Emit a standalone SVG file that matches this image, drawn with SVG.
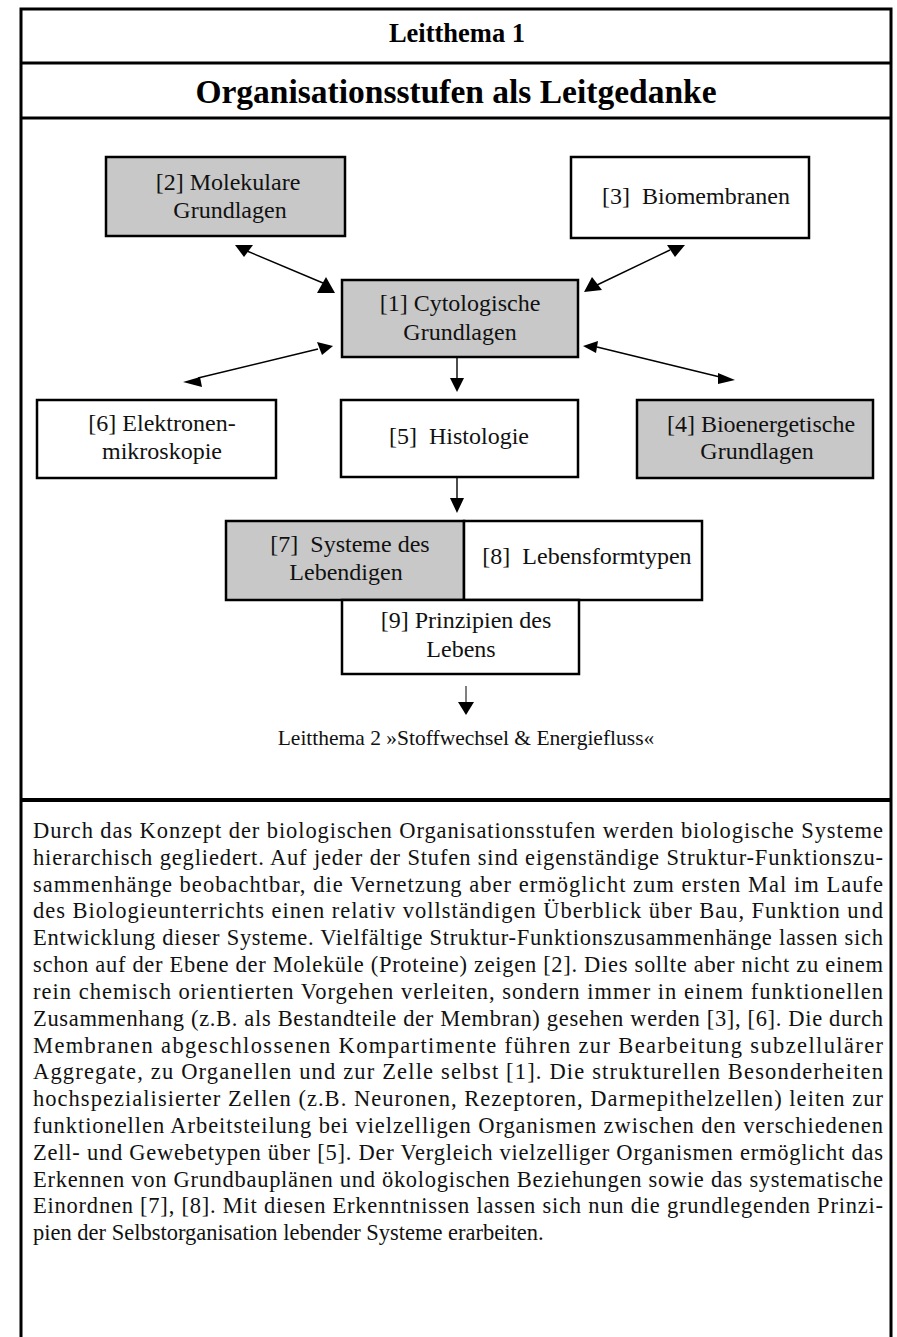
<svg xmlns="http://www.w3.org/2000/svg" width="897" height="1337" viewBox="0 0 897 1337">
  <style>
    .frame { fill: none; stroke: #000; stroke-width: 3; }
    .box { stroke: #000; stroke-width: 2.5; }
    .grey { fill: #c8c8c8; }
    .white { fill: #fff; }
    .lbl { font-family: "Liberation Serif", "Times New Roman", serif; font-size: 24px; fill: #111; text-anchor: middle; }
    .head { font-family: "Liberation Serif", "Times New Roman", serif; font-weight: bold; fill: #000; text-anchor: middle; }
    .body { font-family: "Liberation Serif", "Times New Roman", serif; font-size: 22.5px; fill: #111; }
    .conn line { stroke: #000; stroke-width: 1.4; }
    .conn polygon { fill: #000; }
  </style>

  <rect width="897" height="1337" fill="#fff"/>

  <!-- outer frame with title rows -->
  <g id="frame">
    <rect class="frame" x="21" y="9" width="870" height="1340"/>
    <line x1="21" y1="63" x2="891" y2="63" stroke="#000" stroke-width="3"/>
    <line x1="21" y1="118" x2="891" y2="118" stroke="#000" stroke-width="3"/>
    <line x1="21" y1="800" x2="891" y2="800" stroke="#000" stroke-width="4"/>
  </g>

  <g id="title">
    <text class="head" x="457" y="42" font-size="26.5">Leitthema 1</text>
    <text class="head" x="456" y="103" font-size="33.5">Organisationsstufen als Leitgedanke</text>
  </g>

  <!-- connectors -->
  <g id="connectors" class="conn">
    <!-- [2] <-> [1] -->
    <line x1="247" y1="251" x2="323" y2="283"/>
    <polygon points="235,245 253,245 244,257"/>
    <polygon points="326,277 317,293 335,293"/>
    <!-- [1] <-> [3] -->
    <line x1="670" y1="250" x2="597" y2="285"/>
    <polygon points="667,245 685,245 675,257"/>
    <polygon points="592,277 584,292 602,290"/>
    <!-- [1] <-> [6] -->
    <line x1="198" y1="378" x2="318" y2="349"/>
    <polygon points="317,342 333,346 322,355"/>
    <polygon points="183,382 200,377 202,387"/>
    <!-- [1] <-> [4] -->
    <line x1="597" y1="347" x2="720" y2="377"/>
    <polygon points="583,346 598,341 596,353"/>
    <polygon points="718,373 735,380 718,384"/>
    <!-- [1] -> [5] -->
    <line x1="457" y1="357" x2="457" y2="380"/>
    <polygon points="450,378 464,378 457,392"/>
    <!-- [5] -> [7]/[8] -->
    <line x1="457" y1="477" x2="457" y2="500"/>
    <polygon points="450,498 464,498 457,513"/>
    <!-- [9] -> Leitthema 2 -->
    <line x1="466" y1="686" x2="466" y2="703" style="stroke-width:1"/>
    <polygon points="458,702 474,702 466,715"/>
  </g>

  <g id="n2">
    <rect class="box grey" x="106" y="157" width="239" height="79"/>
    <text class="lbl" x="228" y="190">[2] Molekulare</text>
    <text class="lbl" x="230" y="218">Grundlagen</text>
  </g>

  <g id="n3">
    <rect class="box white" x="571" y="157" width="238" height="81"/>
    <text class="lbl" x="696" y="204">[3]&#160; Biomembranen</text>
  </g>

  <g id="n1">
    <rect class="box grey" x="342" y="280" width="236" height="77"/>
    <text class="lbl" x="460" y="311">[1] Cytologische</text>
    <text class="lbl" x="460" y="340">Grundlagen</text>
  </g>

  <g id="n6">
    <rect class="box white" x="37" y="400" width="239" height="78"/>
    <text class="lbl" x="162" y="431">[6] Elektronen-</text>
    <text class="lbl" x="162" y="459">mikroskopie</text>
  </g>

  <g id="n5">
    <rect class="box white" x="341" y="400" width="237" height="77"/>
    <text class="lbl" x="459" y="444">[5]&#160; Histologie</text>
  </g>

  <g id="n4">
    <rect class="box grey" x="637" y="400" width="236" height="78"/>
    <text class="lbl" x="761" y="432">[4] Bioenergetische</text>
    <text class="lbl" x="757" y="459">Grundlagen</text>
  </g>

  <g id="n7">
    <rect class="box grey" x="226" y="521" width="238" height="79"/>
    <text class="lbl" x="350" y="552">[7]&#160; Systeme des</text>
    <text class="lbl" x="346" y="580">Lebendigen</text>
  </g>

  <g id="n8">
    <rect class="box white" x="464" y="521" width="238" height="79"/>
    <text class="lbl" x="587" y="564">[8]&#160; Lebensformtypen</text>
  </g>

  <g id="n9">
    <rect class="box white" x="342" y="600" width="237" height="74"/>
    <text class="lbl" x="466" y="628">[9] Prinzipien des</text>
    <text class="lbl" x="461" y="657">Lebens</text>
  </g>

  <g id="next">
    <text class="lbl" x="466" y="745" style="font-size:21.5px">Leitthema 2 »Stoffwechsel &amp; Energiefluss«</text>
  </g>

  <!-- explanatory paragraph, justified -->
  <g id="paragraph" class="body">
    <text x="33" y="838" textLength="850" lengthAdjust="spacing">Durch das Konzept der biologischen Organisationsstufen  werden biologische Systeme</text>
    <text x="33" y="865" textLength="850" lengthAdjust="spacing">hierarchisch gegliedert. Auf jeder der Stufen sind eigenständige Struktur-Funktionszu-</text>
    <text x="33" y="892" textLength="850" lengthAdjust="spacing">sammenhänge beobachtbar, die Vernetzung aber  ermöglicht zum ersten Mal im Laufe</text>
    <text x="33" y="918" textLength="850" lengthAdjust="spacing">des Biologieunterrichts einen relativ vollständigen Überblick über  Bau, Funktion und</text>
    <text x="33" y="945" textLength="850" lengthAdjust="spacing">Entwicklung dieser Systeme.  Vielfältige Struktur-Funktionszusammenhänge lassen sich</text>
    <text x="33" y="972" textLength="850" lengthAdjust="spacing">schon auf der Ebene der Moleküle (Proteine) zeigen [2]. Dies sollte aber nicht zu einem</text>
    <text x="33" y="999" textLength="850" lengthAdjust="spacing">rein chemisch orientierten Vorgehen verleiten, sondern immer in einem funktionellen</text>
    <text x="33" y="1026" textLength="850" lengthAdjust="spacing">Zusammenhang (z.B. als Bestandteile der Membran) gesehen werden [3], [6]. Die durch</text>
    <text x="33" y="1053" textLength="850" lengthAdjust="spacing">Membranen abgeschlossenen Kompartimente führen zur Bearbeitung subzellulärer</text>
    <text x="33" y="1079" textLength="850" lengthAdjust="spacing">Aggregate, zu Organellen und zur Zelle selbst [1]. Die strukturellen Besonderheiten</text>
    <text x="33" y="1106" textLength="850" lengthAdjust="spacing">hochspezialisierter Zellen (z.B. Neuronen, Rezeptoren, Darmepithelzellen) leiten zur</text>
    <text x="33" y="1133" textLength="850" lengthAdjust="spacing">funktionellen Arbeitsteilung bei vielzelligen Organismen zwischen den verschiedenen</text>
    <text x="33" y="1160" textLength="850" lengthAdjust="spacing">Zell- und Gewebetypen über [5]. Der Vergleich vielzelliger Organismen ermöglicht das</text>
    <text x="33" y="1187" textLength="850" lengthAdjust="spacing">Erkennen von Grundbauplänen und ökologischen Beziehungen sowie das systematische</text>
    <text x="33" y="1213" textLength="850" lengthAdjust="spacing">Einordnen [7], [8]. Mit diesen Erkenntnissen lassen sich nun die grundlegenden Prinzi-</text>
    <text x="33" y="1240">pien der Selbstorganisation lebender Systeme erarbeiten.</text>
  </g>
</svg>
